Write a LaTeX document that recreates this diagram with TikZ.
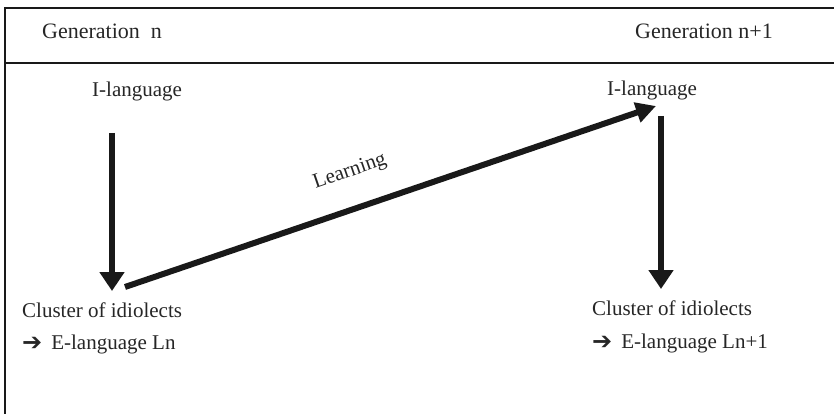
\documentclass[tikz,border=0pt]{standalone}
\usepackage{fontspec}
\setmainfont{Liberation Serif}
\newfontfamily\symfont{DejaVu Sans Bold}
\usetikzlibrary{arrows.meta}
\tikzset{
  frame/.style={line width=2.6pt, black!90},
  body/.style={font=\fontsize{21pt}{24pt}\selectfont, inner sep=0pt, anchor=base west, text=black!85},
  head/.style={font=\fontsize{22pt}{26pt}\selectfont, inner sep=0pt, anchor=base west, text=black!85},
  bigarrow/.style={line width=6pt, black!90, -{Triangle[width=24pt,length=19pt]}},
  learnarrow/.style={line width=6pt, black!90, -{Triangle[width=20pt,length=20pt]}},
}
\newcommand{\bularrow}{{\symfont\fontsize{24pt}{24pt}\selectfont\raisebox{-1pt}{➔}}}
\begin{document}
\begin{tikzpicture}[x=1pt,y=-1pt]
\useasboundingbox (0,0) rectangle (834,414);
% frame
\draw[frame] (834,8) -- (5,8) -- (5,414);
\draw[frame] (5,63) -- (834,63);
% headers
\node[head] (g1) at (42,39) {Generation\ \ n};
\node[head] (g2) at (635,39) {Generation n+1};
% I-languages
\node[body] (il1) at (92,97) {I-language};
\node[body] (il2) at (607,96) {I-language};
% clusters
\node[body] (c1) at (22,317) {Cluster of idiolects};
\node[body] (e1) at (22,349) {\bularrow\hspace{9pt}E-language Ln};
\node[body] (c2) at (592,315) {Cluster of idiolects};
\node[body] (e2) at (592,348) {\bularrow\hspace{9pt}E-language Ln+1};
% arrow coordinates
\coordinate (a1s) at (112,133);
\coordinate (a1e) at (112,291);
\coordinate (lls) at (125,287);
\coordinate (lle) at (656,106);
\coordinate (a2s) at (661,116);
\coordinate (a2e) at (661,289);
\draw[bigarrow] (a1s) -- (a1e);
\draw[bigarrow] (a2s) -- (a2e);
\draw[learnarrow] (lls) -- (lle);
\node[font=\fontsize{21pt}{24pt}\selectfont, text=black!85, rotate=19, inner sep=0pt] (lrn) at (350,172) {Learning};
\end{tikzpicture}
\end{document}
